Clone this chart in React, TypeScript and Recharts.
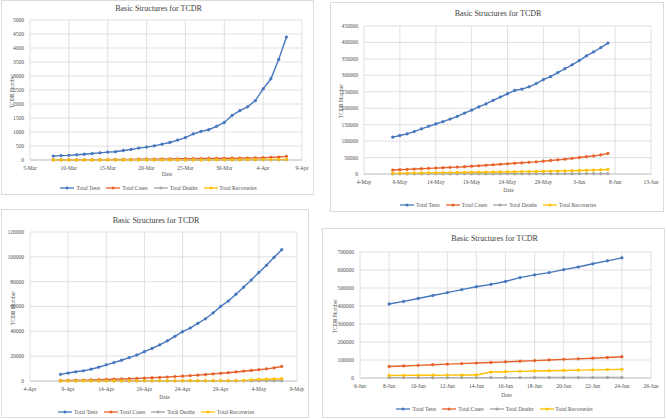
import React from 'react';
import { LineChart, Line, XAxis, YAxis, CartesianGrid } from 'recharts';

// ---- data ----
const seriesNames = ['Total Tests', 'Total Cases', 'Total Deaths', 'Total Recoveries'];
const seriesColors = ['#4677BE', '#E5622A', '#A5A5A5', '#FFC000'];

// panel 1: 8-Mar .. 7-Apr
const marTicks = ['5-Mar', '10-Mar', '15-Mar', '20-Mar', '25-Mar', '30-Mar', '4-Apr', '9-Apr'];
const marTests = [140, 155, 165, 185, 205, 230, 255, 280, 295, 340, 375, 425, 460, 505, 565, 625, 710, 800, 930, 1020, 1080, 1200, 1340, 1590, 1760, 1900, 2120, 2540, 2900, 3590, 4390];
const marCases = [5, 5, 6, 7, 8, 10, 12, 15, 18, 20, 24, 28, 30, 33, 36, 40, 43, 46, 50, 52, 55, 58, 60, 63, 66, 70, 75, 82, 92, 105, 130];
const marDeaths = [0, 0, 0, 0, 0, 0, 0, 0, 0, 0, 0, 0, 0, 0, 0, 0, 0, 0, 1, 1, 1, 1, 1, 2, 2, 2, 3, 3, 4, 5, 6];
const marRecoveries = [0, 0, 0, 0, 0, 0, 0, 0, 0, 0, 1, 1, 1, 1, 2, 2, 2, 3, 3, 4, 5, 6, 7, 8, 9, 10, 12, 14, 16, 18, 20];

// panel 2: 8-May .. 7-Jun
const mayTicks = ['4-May', '9-May', '14-May', '19-May', '24-May', '29-May', '3-Jun', '8-Jun', '13-Jun'];
const mayTests = [112000, 117000, 122000, 129000, 137000, 145000, 152000, 159000, 167000, 175000, 185000, 194000, 204000, 213000, 224000, 234000, 244000, 254000, 258000, 265000, 275000, 287000, 296000, 308000, 320000, 332000, 345000, 359000, 371000, 384000, 398000];
const mayCases = [12000, 13000, 14000, 15000, 16000, 17000, 18000, 19000, 20000, 21000, 22000, 23500, 25000, 26500, 28000, 29500, 31000, 32500, 34000, 35500, 37000, 39000, 41000, 43000, 45000, 47500, 50000, 52500, 55000, 58000, 62500];
const mayDeaths = [300, 320, 340, 360, 380, 400, 420, 440, 460, 480, 500, 520, 540, 560, 590, 620, 650, 680, 710, 740, 770, 800, 840, 880, 920, 960, 1000, 1040, 1080, 1120, 1170];
const mayRecoveries = [1800, 2100, 2400, 2700, 3000, 3300, 3600, 3900, 4200, 4500, 4800, 5100, 5400, 5700, 6000, 6300, 6600, 6900, 7200, 7500, 7800, 8200, 8600, 9000, 9500, 10000, 10600, 11200, 11900, 12800, 13900];

// panel 3: 8-Apr .. 7-May
const aprTicks = ['4-Apr', '9-Apr', '14-Apr', '19-Apr', '24-Apr', '29-Apr', '4-May', '9-May'];
const aprTests = [5300, 6400, 7400, 8200, 9500, 11100, 13000, 14800, 16700, 18800, 20900, 23600, 26200, 29100, 32300, 36000, 39700, 42600, 46400, 50100, 54800, 60100, 64400, 69900, 75500, 81300, 87400, 93200, 99600, 105700];
const aprCases = [400, 500, 600, 700, 850, 1000, 1200, 1400, 1600, 1800, 2000, 2300, 2600, 2900, 3200, 3500, 3900, 4300, 4700, 5200, 5700, 6200, 6700, 7300, 7900, 8500, 9100, 9800, 10600, 11700];
const aprDeaths = [10, 15, 20, 25, 30, 35, 40, 45, 50, 55, 60, 65, 70, 75, 80, 85, 90, 95, 100, 110, 120, 130, 140, 150, 160, 170, 180, 190, 200, 210];
const aprRecoveries = [20, 30, 40, 50, 60, 70, 80, 90, 100, 110, 120, 130, 140, 150, 160, 170, 180, 190, 200, 210, 220, 240, 260, 300, 400, 900, 1200, 1450, 1650, 1850];

// panel 4: 8-Jun .. 24-Jun
const junTicks = ['6-Jun', '8-Jun', '10-Jun', '12-Jun', '14-Jun', '16-Jun', '18-Jun', '20-Jun', '22-Jun', '24-Jun', '26-Jun'];
const junTests = [411000, 425500, 441800, 458000, 474500, 491000, 507000, 520000, 536400, 558000, 572700, 585500, 601800, 616400, 634500, 651000, 667300];
const junCases = [64000, 67000, 70000, 73500, 77000, 80000, 83000, 86000, 89500, 93000, 96500, 100000, 103500, 106500, 110000, 114000, 118000];
const junDeaths = [1900, 1950, 2000, 2050, 2100, 2150, 2200, 2250, 2300, 2350, 2400, 2450, 2500, 2550, 2600, 2650, 2700];
const junRecoveries = [14000, 14500, 15000, 15500, 16000, 16500, 17000, 33000, 35000, 37000, 39000, 40500, 42000, 43500, 45000, 46500, 48000];

const serif = '"Liberation Serif", "DejaVu Serif", serif';
const textGray = '#505050';

type PanelProps = {
  left: number; top: number; w: number; h: number;
  m: { l: number; r: number; t: number; b: number };
  ticks: string[]; step: number; start: number;
  values: number[][];
  yMax: number; yStep: number;
  titleY: number; dateY: number; legendY: number; yLabelX: number;
};

const Legend = ({ y, w }: { y: number; w: number }) => (
  <div style={{ position: 'absolute', top: y - 4, left: 0, width: w, display: 'flex', justifyContent: 'center', gap: 6, fontFamily: serif, fontSize: 5.5, color: textGray, lineHeight: '8px' }}>
    {seriesNames.map((n, i) => (
      <span key={n} style={{ display: 'flex', alignItems: 'center', gap: 2 }}>
        <svg width={14} height={6}>
          <line x1={0} y1={3} x2={14} y2={3} stroke={seriesColors[i]} strokeWidth={1.3} />
          <circle cx={7} cy={3} r={1.5} fill={seriesColors[i]} />
        </svg>
        {n}
      </span>
    ))}
  </div>
);

const Panel = (p: PanelProps) => {
  const [tests, cases, deaths, recoveries] = p.values;
  const rows = tests.map((t, i) => ({ x: p.start + i, tests: t, cases: cases[i], deaths: deaths[i], recoveries: recoveries[i] }));
  const xMax = (p.ticks.length - 1) * p.step;
  const xTicks = p.ticks.map((_, i) => i * p.step);
  const yTicks: number[] = [];
  for (let v = 0; v <= p.yMax; v += p.yStep) yTicks.push(v);
  const keys = ['tests', 'cases', 'deaths', 'recoveries'];
  const tickStyle = { fontSize: 5.5, fill: textGray, fontFamily: serif };

  return (
    <div style={{ position: 'absolute', left: p.left, top: p.top, width: p.w, height: p.h, border: '1px solid #dcdcdc', boxSizing: 'border-box', background: '#fff' }}>
      <div style={{ position: 'absolute', left: 0, top: 0 }}>
        <LineChart width={p.w - 2} height={p.h - 2} data={rows}
          margin={{ top: p.m.t, right: p.m.r, bottom: p.m.b - 12, left: 0 }}>
          <CartesianGrid stroke="#d9d9d9" strokeWidth={0.8} verticalValues={xTicks} horizontalValues={yTicks} />
          <XAxis type="number" dataKey="x" domain={[0, xMax]} ticks={xTicks} height={12}
            tickFormatter={(v: number) => p.ticks[Math.round(v / p.step)]}
            tick={tickStyle} tickLine={false} tickSize={4} interval={0}
            axisLine={{ stroke: '#bfbfbf', strokeWidth: 0.8 }} />
          <YAxis type="number" domain={[0, p.yMax]} ticks={yTicks} width={p.m.l} interval={0}
            tick={tickStyle} tickLine={false} tickSize={4} axisLine={false} />
          {keys.map((k, i) => (
            <Line key={k} dataKey={k} type="linear" stroke={seriesColors[i]} strokeWidth={1.4}
              dot={{ r: 1.4, fill: seriesColors[i], stroke: seriesColors[i], strokeWidth: 0.4 }}
              isAnimationActive={false} />
          ))}
        </LineChart>
      </div>
      <div style={{ position: 'absolute', top: p.titleY - 6, left: 0, width: p.w, textAlign: 'center', fontFamily: serif, fontSize: 8, color: '#404040', lineHeight: '12px' }}>
        Basic Structures for TCDR
      </div>
      <div style={{ position: 'absolute', top: p.dateY - 4, left: p.m.l, width: p.w - p.m.l - p.m.r, textAlign: 'center', fontFamily: serif, fontSize: 5.5, color: textGray, lineHeight: '8px' }}>
        Date
      </div>
      <div style={{ position: 'absolute', left: p.yLabelX - 30, top: (p.m.t + p.h - p.m.b) / 2 - 4, width: 60, textAlign: 'center', transform: 'rotate(-90deg)', fontFamily: serif, fontSize: 5.5, color: textGray, lineHeight: '8px' }}>
        TCDR Number
      </div>
      <Legend y={p.legendY} w={p.w} />
    </div>
  );
};

export default function App() {
  return (
    <div style={{ position: 'fixed', left: 0, top: 0, width: 666, height: 419, background: '#fff', overflow: 'hidden' }}>
      <Panel left={1} top={0} w={313} h={195} m={{ l: 28, r: 11, t: 19, b: 34 }}
        ticks={marTicks} step={5} start={3} values={[marTests, marCases, marDeaths, marRecoveries]}
        yMax={5000} yStep={500} titleY={8} dateY={173} legendY={187} yLabelX={10} />
      <Panel left={330} top={2} w={334} h={210} m={{ l: 33, r: 12, t: 23, b: 37 }}
        ticks={mayTicks} step={5} start={4} values={[mayTests, mayCases, mayDeaths, mayRecoveries]}
        yMax={450000} yStep={50000} titleY={11} dateY={187} legendY={202} yLabelX={10} />
      <Panel left={1} top={209} w={308} h={209} m={{ l: 28, r: 11, t: 22, b: 36 }}
        ticks={aprTicks} step={5} start={4} values={[aprTests, aprCases, aprDeaths, aprRecoveries]}
        yMax={120000} yStep={20000} titleY={11} dateY={187} legendY={202} yLabelX={11} />
      <Panel left={322} top={228} w={343} h={190} m={{ l: 37, r: 13, t: 23, b: 39 }}
        ticks={junTicks} step={2} start={2} values={[junTests, junCases, junDeaths, junRecoveries]}
        yMax={700000} yStep={100000} titleY={10} dateY={166} legendY={180} yLabelX={12} />
    </div>
  );
}
